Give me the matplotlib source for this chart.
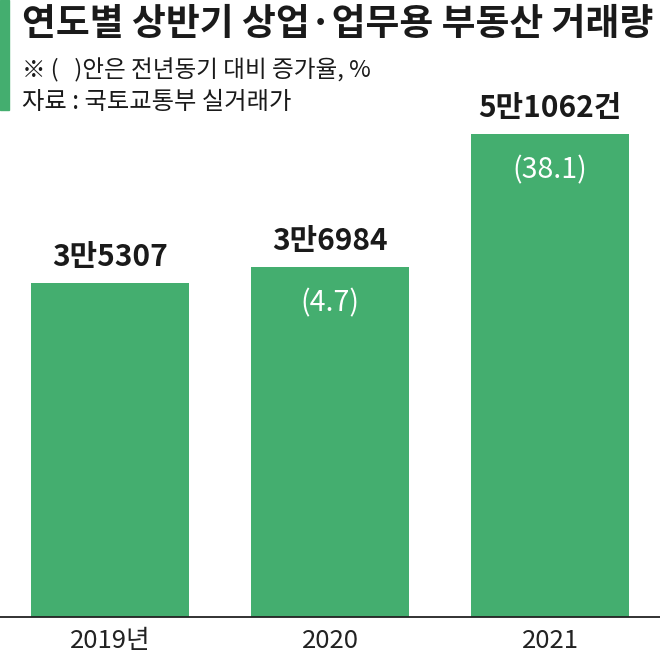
import matplotlib
matplotlib.use("Agg")
import matplotlib.pyplot as plt
from matplotlib.patches import Rectangle

plt.rcParams['font.family'] = ['Noto Sans CJK KR', 'DejaVu Sans']

years = ['2019년', '2020', '2021']
values = [35307, 36984, 51062]
value_labels = ['3만5307', '3만6984', '5만1062건']
growth_labels = ['', '(4.7)', '(38.1)']

title = '연도별 상반기 상업·업무용 부동산 거래량'
note = '※ (   )안은 전년동기 대비 증가율, %'
source = '자료 : 국토교통부 실거래가'

GREEN = '#44AE6F'
W, H = 660, 659
fig = plt.figure(figsize=(W / 100, H / 100), dpi=100)

ax = fig.add_axes([0, (H - 617) / H, 1, 617 / H])
x = list(range(len(values)))
bars = ax.bar(x, values, width=0.718, color=GREEN)
ax.set_xlim(-0.5, 2.5)
ax.set_ylim(0, 65220)

for s in ['top', 'left', 'right']:
    ax.spines[s].set_visible(False)
ax.spines['bottom'].set_linewidth(1.3)
ax.spines['bottom'].set_color('#222222')
ax.set_yticks([])
ax.set_xticks(x)
ax.set_xticklabels(years, fontsize=18.5, color='#222222')
ax.tick_params(axis='x', length=0, pad=8)

for xi, v, vl, gl in zip(x, values, value_labels, growth_labels):
    ax.annotate(vl, (xi, v), xytext=(0, 19), textcoords='offset points',
                ha='center', va='center', fontsize=21.5, fontweight='black',
                color='#1a1a1a')
    if gl:
        ax.annotate(gl, (xi, v), xytext=(0, -26), textcoords='offset points',
                    ha='center', va='center', fontsize=20.5, color='white')

fig.patches.append(Rectangle((0, 1 - 110 / H), 9 / W, 110 / H,
                             transform=fig.transFigure, color=GREEN))
fig.text(22 / W, 1 - 25 / H, title, fontsize=26.5, fontweight='black',
         ha='left', va='center', color='#1a1a1a')
fig.text(22 / W, 1 - 70 / H, note, fontsize=17, ha='left', va='center',
         color='#1a1a1a')
fig.text(22 / W, 1 - 102 / H, source, fontsize=17.5, ha='left', va='center',
         color='#1a1a1a')

fig.savefig('out.png', dpi=100)
